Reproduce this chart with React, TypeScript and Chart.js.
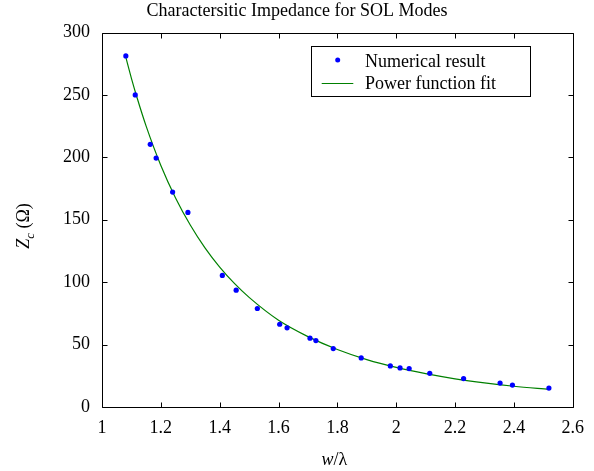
import React, { useEffect, useRef } from "react";
import { Chart, registerables } from "chart.js";

Chart.register(...registerables);

const chartTitle = "Charactersitic Impedance for SOL Modes";
const legendLabels = ["Numerical result", "Power function fit"];

const numericalX = [1.081, 1.113, 1.164, 1.184, 1.24, 1.292, 1.409, 1.456, 1.528, 1.604, 1.629, 1.707, 1.727, 1.786, 1.881, 1.98, 2.013, 2.044, 2.114, 2.229, 2.353, 2.395, 2.519];
const numericalY = [281.2, 250.0, 210.4, 199.4, 172.2, 155.9, 105.4, 93.6, 78.9, 66.3, 63.4, 55.1, 53.2, 46.8, 39.3, 32.9, 31.3, 30.8, 27.0, 22.8, 19.2, 17.6, 15.2];

const fitX = [1.08, 1.1, 1.12, 1.15, 1.2, 1.25, 1.3, 1.35, 1.4, 1.45, 1.5, 1.6, 1.7, 1.8, 1.9, 2.0, 2.1, 2.2, 2.3, 2.4, 2.52];
const fitY = [281, 263.3, 247.1, 225, 193.5, 167.5, 145.8, 127.5, 112.1, 99, 87.8, 69.5, 56.4, 46.1, 38, 31.7, 26.7, 22.6, 19.3, 16.6, 14];

const xTicks = [1, 1.2, 1.4, 1.6, 1.8, 2, 2.2, 2.4, 2.6];
const xTickLabels = ["1", "1.2", "1.4", "1.6", "1.8", "2", "2.2", "2.4", "2.6"];
const yTicks = [0, 50, 100, 150, 200, 250, 300];
const yTickLabels = ["0", "50", "100", "150", "200", "250", "300"];

const FONT = "'Liberation Serif', 'Times New Roman', serif";

const decorPlugin = {
  id: "decor",
  afterDraw(chart: any) {
    const { ctx, chartArea: a, scales } = chart;
    const xs = scales.x;
    const ys = scales.y;
    const l = Math.round(a.left) + 0.5;
    const r = Math.round(a.right) + 0.5;
    const t = Math.round(a.top) + 0.5;
    const b = Math.round(a.bottom) + 0.5;
    ctx.save();
    ctx.strokeStyle = "#000";
    ctx.lineWidth = 1;
    ctx.beginPath();
    ctx.rect(l, t, r - l, b - t);
    const tl = 5;
    xTicks.forEach((v) => {
      const px = Math.round(xs.getPixelForValue(v)) + 0.5;
      ctx.moveTo(px, b);
      ctx.lineTo(px, b - tl);
      ctx.moveTo(px, t);
      ctx.lineTo(px, t + tl);
    });
    yTicks.forEach((v) => {
      const py = Math.round(ys.getPixelForValue(v)) + 0.5;
      ctx.moveTo(l, py);
      ctx.lineTo(l + tl, py);
      ctx.moveTo(r, py);
      ctx.lineTo(r - tl, py);
    });
    ctx.stroke();

    // Title
    ctx.fillStyle = "#000";
    ctx.font = `18px ${FONT}`;
    ctx.textAlign = "center";
    ctx.textBaseline = "alphabetic";
    ctx.fillText(chartTitle, 297, 16);

    // X axis title: w/λ
    const xc = (a.left + a.right) / 2 - 3;
    ctx.font = `italic 18px ${FONT}`;
    const wW = ctx.measureText("w").width;
    ctx.font = `18px ${FONT}`;
    const restW = ctx.measureText("/λ").width;
    let sx = xc - (wW + restW) / 2;
    ctx.textAlign = "left";
    ctx.font = `italic 18px ${FONT}`;
    ctx.fillText("w", sx, 465);
    ctx.font = `18px ${FONT}`;
    ctx.fillText("/λ", sx + wW, 465);

    // Y axis title: Z_c (Ω)
    ctx.save();
    ctx.translate(28.5, 226);
    ctx.rotate(-Math.PI / 2);
    ctx.font = `italic 18px ${FONT}`;
    const zW = ctx.measureText("Z").width;
    ctx.font = `italic 13px ${FONT}`;
    const cW = ctx.measureText("c").width;
    ctx.font = `18px ${FONT}`;
    const oW = ctx.measureText(" (Ω)").width;
    const total = zW + cW + oW;
    let px = -total / 2;
    ctx.textAlign = "left";
    ctx.font = `italic 18px ${FONT}`;
    ctx.fillText("Z", px, 0);
    px += zW;
    ctx.font = `italic 13px ${FONT}`;
    ctx.fillText("c", px, 5);
    px += cW;
    ctx.font = `18px ${FONT}`;
    ctx.fillText(" (Ω)", px, 0);
    ctx.restore();

    // Legend
    ctx.fillStyle = "#fff";
    ctx.fillRect(311.5, 46.5, 219, 50);
    ctx.strokeStyle = "#000";
    ctx.lineWidth = 1;
    ctx.strokeRect(311.5, 46.5, 219, 50);
    ctx.fillStyle = "#0000ff";
    ctx.beginPath();
    ctx.arc(337.7, 60, 2.5, 0, Math.PI * 2);
    ctx.fill();
    ctx.strokeStyle = "#008000";
    ctx.lineWidth = 1.2;
    ctx.beginPath();
    ctx.moveTo(321.7, 83.5);
    ctx.lineTo(353.3, 83.5);
    ctx.stroke();
    ctx.fillStyle = "#000";
    ctx.font = `18px ${FONT}`;
    ctx.textAlign = "left";
    ctx.fillText(legendLabels[0], 365, 66.5);
    ctx.fillText(legendLabels[1], 365, 89.3);
    ctx.restore();
  },
};

export default function App() {
  const ref = useRef<HTMLCanvasElement | null>(null);
  useEffect(() => {
    document.body.style.margin = "0";
    const canvas = ref.current;
    if (!canvas) return;
    const chart = new Chart(canvas, {
      type: "scatter",
      data: {
        datasets: [
          {
            label: legendLabels[0],
            data: numericalX.map((x, i) => ({ x, y: numericalY[i] })),
            backgroundColor: "#0000ff",
            borderColor: "#0000ff",
            borderWidth: 0,
            pointRadius: 2.6,
            showLine: false,
            order: 0,
          },
          {
            label: legendLabels[1],
            data: fitX.map((x, i) => ({ x, y: fitY[i] })),
            borderColor: "#008000",
            backgroundColor: "#008000",
            borderWidth: 1.2,
            pointRadius: 0,
            showLine: true,
            cubicInterpolationMode: "monotone",
            order: 1,
          } as any,
        ],
      },
      options: {
        animation: false,
        responsive: false,
        devicePixelRatio: 1,
        layout: { padding: { top: 32.5, right: 16, left: 0, bottom: 0 } },
        plugins: {
          legend: { display: false },
          title: { display: false },
          tooltip: { enabled: false },
        },
        scales: {
          x: {
            type: "linear",
            position: "bottom",
            min: 1,
            max: 2.6,
            grid: { display: false, drawTicks: false },
            border: { display: false },
            afterBuildTicks: (s: any) => {
              s.ticks = xTicks.map((v) => ({ value: v }));
            },
            ticks: {
              color: "#000",
              font: { family: FONT, size: 18 },
              padding: 10,
              maxRotation: 0,
              autoSkip: false,
              callback: (v: any) => {
                const i = xTicks.findIndex((t) => Math.abs(t - v) < 1e-9);
                return i >= 0 ? xTickLabels[i] : "";
              },
            },
            afterFit: (s: any) => {
              s.height = 64;
            },
          },
          y: {
            type: "linear",
            min: 0,
            max: 300,
            grid: { display: false, drawTicks: false },
            border: { display: false },
            afterBuildTicks: (s: any) => {
              s.ticks = yTicks.map((v) => ({ value: v }));
            },
            ticks: {
              color: "#000",
              font: { family: FONT, size: 18 },
              padding: 12,
              autoSkip: false,
              callback: (v: any) => {
                const i = yTicks.findIndex((t) => Math.abs(t - v) < 1e-9);
                return i >= 0 ? yTickLabels[i] : "";
              },
            },
            afterFit: (s: any) => {
              s.width = 102;
            },
          },
        },
      },
      plugins: [decorPlugin],
    });
    return () => chart.destroy();
  }, []);
  return (
    <div style={{ width: 594, height: 471, background: "#fff" }}>
      <canvas ref={ref} width={594} height={471} style={{ display: "block" }} />
    </div>
  );
}
